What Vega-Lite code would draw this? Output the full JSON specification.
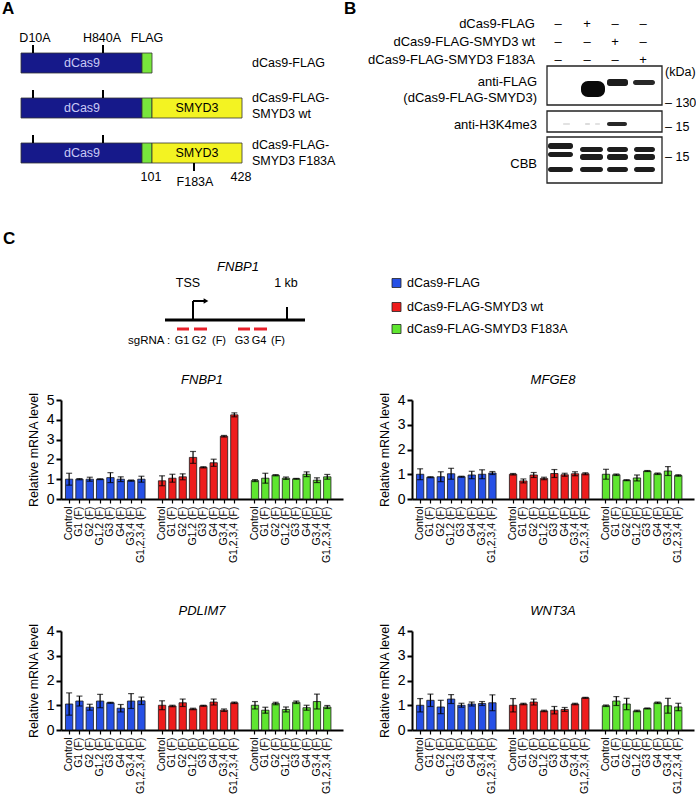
{
  "$schema": "https://vega.github.io/schema/vega-lite/v6.json",
  "padding": 0,
  "bounds": "flush",
  "spacing": 231,
  "background": "white",
  "config": {
    "view": {"stroke": null},
    "font": "Liberation Sans",
    "axis": {"labelFont": "Liberation Sans", "titleFont": "Liberation Sans", "labelColor": "#000", "titleColor": "#000", "domainColor": "#000", "tickColor": "#000", "grid": false},
    "title": {"font": "Liberation Sans", "color": "#000"},
    "text": {"font": "Liberation Sans", "color": "#000"}
  },
  "datasets": {
    "constructs": [
      {"x": 21, "x2": 142, "y": 53, "y2": 73, "part": "dCas9"},
      {"x": 142, "x2": 152, "y": 53, "y2": 73, "part": "FLAG"},
      {"x": 21, "x2": 142, "y": 98, "y2": 118, "part": "dCas9"},
      {"x": 142, "x2": 152, "y": 98, "y2": 118, "part": "FLAG"},
      {"x": 152, "x2": 242, "y": 98, "y2": 118, "part": "SMYD3"},
      {"x": 21, "x2": 142, "y": 143, "y2": 163, "part": "dCas9"},
      {"x": 142, "x2": 152, "y": 143, "y2": 163, "part": "FLAG"},
      {"x": 152, "x2": 242, "y": 143, "y2": 163, "part": "SMYD3"}
    ],
    "vticks": [
      {"x": 33, "y": 45, "y2": 53}, {"x": 103, "y": 45, "y2": 53},
      {"x": 33, "y": 90, "y2": 98}, {"x": 103, "y": 90, "y2": 98},
      {"x": 33, "y": 135, "y2": 143}, {"x": 103, "y": 135, "y2": 143},
      {"x": 194, "y": 163, "y2": 171},
      {"x": 193, "y": 301, "y2": 320}, {"x": 287, "y": 307, "y2": 320}
    ],
    "hlines": [
      {"x": 165, "x2": 305, "y": 320}
    ],
    "harrow": [
      {"x": 193, "x2": 204, "y": 301}
    ],
    "arrowhead": [{"x": 206, "y": 301}],
    "sgrna": [
      {"x": 177, "x2": 189, "y": 329}, {"x": 194, "x2": 207, "y": 329},
      {"x": 238, "x2": 250, "y": 329}, {"x": 254, "x2": 267, "y": 329}
    ],
    "blots": [
      {"x": 547, "x2": 662, "y": 66, "y2": 105},
      {"x": 547, "x2": 662, "y": 111, "y2": 132},
      {"x": 547, "x2": 662, "y": 137, "y2": 183}
    ],
    "blob": [{"x": 581, "x2": 605, "y": 81, "y2": 97, "i": 1}],
    "bands": [
      {"x": 607, "x2": 628, "y": 79, "y2": 86, "i": 0.95},
      {"x": 633, "x2": 655, "y": 80, "y2": 85, "i": 0.9},
      {"x": 607, "x2": 627, "y": 122, "y2": 126, "i": 0.9},
      {"x": 563, "x2": 570, "y": 123, "y2": 125, "i": 0.12},
      {"x": 585, "x2": 590, "y": 123, "y2": 125, "i": 0.15},
      {"x": 595, "x2": 600, "y": 123, "y2": 125, "i": 0.12},
      {"x": 548, "x2": 573, "y": 143, "y2": 149, "i": 0.95},
      {"x": 548, "x2": 573, "y": 152, "y2": 157, "i": 0.95},
      {"x": 548, "x2": 573, "y": 167, "y2": 172, "i": 0.95},
      {"x": 580, "x2": 603, "y": 147, "y2": 152, "i": 0.95},
      {"x": 580, "x2": 603, "y": 154, "y2": 160, "i": 0.95},
      {"x": 580, "x2": 603, "y": 167, "y2": 172, "i": 0.95},
      {"x": 607, "x2": 628, "y": 147, "y2": 152, "i": 0.95},
      {"x": 607, "x2": 628, "y": 154, "y2": 160, "i": 0.95},
      {"x": 607, "x2": 628, "y": 167, "y2": 172, "i": 0.95},
      {"x": 634, "x2": 655, "y": 147, "y2": 152, "i": 0.95},
      {"x": 634, "x2": 655, "y": 154, "y2": 160, "i": 0.95},
      {"x": 634, "x2": 655, "y": 167, "y2": 172, "i": 0.95}
    ],
    "legendsq": [
      {"x": 392, "x2": 401, "y": 278.5, "y2": 287.5, "cond": "FLAG"},
      {"x": 392, "x2": 401, "y": 302.5, "y2": 311.5, "cond": "wt"},
      {"x": 392, "x2": 401, "y": 324.5, "y2": 333.5, "cond": "F183A"}
    ],
    "letters": [
      {"x": 2, "y": 9, "t": "A"}, {"x": 344, "y": 9, "t": "B"}, {"x": 3, "y": 239, "t": "C"}
    ],
    "ctext": [
      {"x": 35, "y": 38, "t": "D10A"}, {"x": 102, "y": 38, "t": "H840A"}, {"x": 147, "y": 38, "t": "FLAG"},
      {"x": 197, "y": 108, "t": "SMYD3"}, {"x": 197, "y": 153, "t": "SMYD3"},
      {"x": 151, "y": 177, "t": "101"}, {"x": 195, "y": 182, "t": "F183A"}, {"x": 241, "y": 177, "t": "428"},
      {"x": 188, "y": 283, "t": "TSS"}, {"x": 286, "y": 283, "t": "1 kb"}
    ],
    "gtext": [
      {"x": 182, "y": 341, "t": "G1"}, {"x": 199, "y": 341, "t": "G2"}, {"x": 219, "y": 341, "t": "(F)"},
      {"x": 242, "y": 341, "t": "G3"}, {"x": 259, "y": 341, "t": "G4"}, {"x": 278, "y": 341, "t": "(F)"}
    ],
    "sglabel": [{"x": 128, "y": 341, "t": "sgRNA :"}],
    "dcas": [
      {"x": 82, "y": 63, "t": "dCas9"}, {"x": 82, "y": 108, "t": "dCas9"}, {"x": 82, "y": 153, "t": "dCas9"}
    ],
    "ltext": [
      {"x": 252, "y": 63, "t": "dCas9-FLAG"},
      {"x": 252, "y": 98, "t": "dCas9-FLAG-"}, {"x": 252, "y": 114, "t": "SMYD3 wt"},
      {"x": 252, "y": 145, "t": "dCas9-FLAG-"}, {"x": 252, "y": 161, "t": "SMYD3 F183A"},
      {"x": 407, "y": 283, "t": "dCas9-FLAG"},
      {"x": 407, "y": 307, "t": "dCas9-FLAG-SMYD3 wt"},
      {"x": 407, "y": 329, "t": "dCas9-FLAG-SMYD3 F183A"},
      {"x": 665, "y": 72, "t": "(kDa)"},
      {"x": 665, "y": 103, "t": "– 130"},
      {"x": 665, "y": 127, "t": "– 15"},
      {"x": 665, "y": 157, "t": "– 15"}
    ],
    "rtext": [
      {"x": 535, "y": 24, "t": "dCas9-FLAG"},
      {"x": 535, "y": 42, "t": "dCas9-FLAG-SMYD3 wt"},
      {"x": 535, "y": 60, "t": "dCas9-FLAG-SMYD3 F183A"},
      {"x": 537, "y": 82, "t": "anti-FLAG"},
      {"x": 537, "y": 98, "t": "(dCas9-FLAG-SMYD3)"},
      {"x": 537, "y": 125, "t": "anti-H3K4me3"},
      {"x": 537, "y": 164, "t": "CBB"}
    ],
    "signs": [
      {"x": 558, "y": 24, "t": "–"}, {"x": 587, "y": 24, "t": "+"}, {"x": 615, "y": 24, "t": "–"}, {"x": 643, "y": 24, "t": "–"},
      {"x": 558, "y": 42, "t": "–"}, {"x": 587, "y": 42, "t": "–"}, {"x": 615, "y": 42, "t": "+"}, {"x": 643, "y": 42, "t": "–"},
      {"x": 558, "y": 60, "t": "–"}, {"x": 587, "y": 60, "t": "–"}, {"x": 615, "y": 60, "t": "–"}, {"x": 643, "y": 60, "t": "+"}
    ],
    "itext": [{"x": 238, "y": 267, "t": "FNBP1"}],
    "expr": [
      {"gene": "FNBP1", "cond": "FLAG", "bar": "a:Control", "mean": 1.0, "sd": 0.3},
      {"gene": "FNBP1", "cond": "FLAG", "bar": "a:G1 (F)", "mean": 1.0, "sd": 0.03},
      {"gene": "FNBP1", "cond": "FLAG", "bar": "a:G2 (F)", "mean": 1.0, "sd": 0.1},
      {"gene": "FNBP1", "cond": "FLAG", "bar": "a:G1,2 (F)", "mean": 1.0, "sd": 0.02},
      {"gene": "FNBP1", "cond": "FLAG", "bar": "a:G3 (F)", "mean": 1.08, "sd": 0.25},
      {"gene": "FNBP1", "cond": "FLAG", "bar": "a:G4 (F)", "mean": 1.0, "sd": 0.12},
      {"gene": "FNBP1", "cond": "FLAG", "bar": "a:G3,4 (F)", "mean": 0.93, "sd": 0.03},
      {"gene": "FNBP1", "cond": "FLAG", "bar": "a:G1,2,3,4 (F)", "mean": 1.0, "sd": 0.15},
      {"gene": "FNBP1", "cond": "wt", "bar": "b:Control", "mean": 0.92, "sd": 0.25},
      {"gene": "FNBP1", "cond": "wt", "bar": "b:G1 (F)", "mean": 1.05, "sd": 0.2},
      {"gene": "FNBP1", "cond": "wt", "bar": "b:G2 (F)", "mean": 1.12, "sd": 0.15},
      {"gene": "FNBP1", "cond": "wt", "bar": "b:G1,2 (F)", "mean": 2.1, "sd": 0.3},
      {"gene": "FNBP1", "cond": "wt", "bar": "b:G3 (F)", "mean": 1.6, "sd": 0.03},
      {"gene": "FNBP1", "cond": "wt", "bar": "b:G4 (F)", "mean": 1.83, "sd": 0.18},
      {"gene": "FNBP1", "cond": "wt", "bar": "b:G3,4 (F)", "mean": 3.17, "sd": 0.04},
      {"gene": "FNBP1", "cond": "wt", "bar": "b:G1,2,3,4 (F)", "mean": 4.25, "sd": 0.1},
      {"gene": "FNBP1", "cond": "F183A", "bar": "c:Control", "mean": 0.93, "sd": 0.05},
      {"gene": "FNBP1", "cond": "F183A", "bar": "c:G1 (F)", "mean": 1.05, "sd": 0.25},
      {"gene": "FNBP1", "cond": "F183A", "bar": "c:G2 (F)", "mean": 1.2, "sd": 0.03},
      {"gene": "FNBP1", "cond": "F183A", "bar": "c:G1,2 (F)", "mean": 1.05, "sd": 0.06},
      {"gene": "FNBP1", "cond": "F183A", "bar": "c:G3 (F)", "mean": 1.02, "sd": 0.02},
      {"gene": "FNBP1", "cond": "F183A", "bar": "c:G4 (F)", "mean": 1.25, "sd": 0.12},
      {"gene": "FNBP1", "cond": "F183A", "bar": "c:G3,4 (F)", "mean": 0.95, "sd": 0.12},
      {"gene": "FNBP1", "cond": "F183A", "bar": "c:G1,2,3,4 (F)", "mean": 1.12, "sd": 0.12},

      {"gene": "MFGE8", "cond": "FLAG", "bar": "a:Control", "mean": 1.0, "sd": 0.22},
      {"gene": "MFGE8", "cond": "FLAG", "bar": "a:G1 (F)", "mean": 0.88, "sd": 0.02},
      {"gene": "MFGE8", "cond": "FLAG", "bar": "a:G2 (F)", "mean": 0.9, "sd": 0.2},
      {"gene": "MFGE8", "cond": "FLAG", "bar": "a:G1,2 (F)", "mean": 1.02, "sd": 0.22},
      {"gene": "MFGE8", "cond": "FLAG", "bar": "a:G3 (F)", "mean": 0.9, "sd": 0.02},
      {"gene": "MFGE8", "cond": "FLAG", "bar": "a:G4 (F)", "mean": 0.97, "sd": 0.15},
      {"gene": "MFGE8", "cond": "FLAG", "bar": "a:G3,4 (F)", "mean": 1.0, "sd": 0.18},
      {"gene": "MFGE8", "cond": "FLAG", "bar": "a:G1,2,3,4 (F)", "mean": 1.05, "sd": 0.06},
      {"gene": "MFGE8", "cond": "wt", "bar": "b:Control", "mean": 1.0, "sd": 0.03},
      {"gene": "MFGE8", "cond": "wt", "bar": "b:G1 (F)", "mean": 0.73, "sd": 0.08},
      {"gene": "MFGE8", "cond": "wt", "bar": "b:G2 (F)", "mean": 0.97, "sd": 0.1},
      {"gene": "MFGE8", "cond": "wt", "bar": "b:G1,2 (F)", "mean": 0.83, "sd": 0.05},
      {"gene": "MFGE8", "cond": "wt", "bar": "b:G3 (F)", "mean": 1.03, "sd": 0.16},
      {"gene": "MFGE8", "cond": "wt", "bar": "b:G4 (F)", "mean": 0.98, "sd": 0.06},
      {"gene": "MFGE8", "cond": "wt", "bar": "b:G3,4 (F)", "mean": 1.02, "sd": 0.08},
      {"gene": "MFGE8", "cond": "wt", "bar": "b:G1,2,3,4 (F)", "mean": 1.02, "sd": 0.04},
      {"gene": "MFGE8", "cond": "F183A", "bar": "c:Control", "mean": 1.0, "sd": 0.2},
      {"gene": "MFGE8", "cond": "F183A", "bar": "c:G1 (F)", "mean": 0.98, "sd": 0.03},
      {"gene": "MFGE8", "cond": "F183A", "bar": "c:G2 (F)", "mean": 0.76, "sd": 0.02},
      {"gene": "MFGE8", "cond": "F183A", "bar": "c:G1,2 (F)", "mean": 0.85, "sd": 0.12},
      {"gene": "MFGE8", "cond": "F183A", "bar": "c:G3 (F)", "mean": 1.13, "sd": 0.02},
      {"gene": "MFGE8", "cond": "F183A", "bar": "c:G4 (F)", "mean": 1.02, "sd": 0.03},
      {"gene": "MFGE8", "cond": "F183A", "bar": "c:G3,4 (F)", "mean": 1.13, "sd": 0.18},
      {"gene": "MFGE8", "cond": "F183A", "bar": "c:G1,2,3,4 (F)", "mean": 0.95, "sd": 0.03},

      {"gene": "PDLIM7", "cond": "FLAG", "bar": "a:Control", "mean": 1.05, "sd": 0.45},
      {"gene": "PDLIM7", "cond": "FLAG", "bar": "a:G1 (F)", "mean": 1.17, "sd": 0.2},
      {"gene": "PDLIM7", "cond": "FLAG", "bar": "a:G2 (F)", "mean": 0.92, "sd": 0.12},
      {"gene": "PDLIM7", "cond": "FLAG", "bar": "a:G1,2 (F)", "mean": 1.17, "sd": 0.27},
      {"gene": "PDLIM7", "cond": "FLAG", "bar": "a:G3 (F)", "mean": 1.1, "sd": 0.02},
      {"gene": "PDLIM7", "cond": "FLAG", "bar": "a:G4 (F)", "mean": 0.88, "sd": 0.15},
      {"gene": "PDLIM7", "cond": "FLAG", "bar": "a:G3,4 (F)", "mean": 1.17, "sd": 0.3},
      {"gene": "PDLIM7", "cond": "FLAG", "bar": "a:G1,2,3,4 (F)", "mean": 1.18, "sd": 0.15},
      {"gene": "PDLIM7", "cond": "wt", "bar": "b:Control", "mean": 1.0, "sd": 0.18},
      {"gene": "PDLIM7", "cond": "wt", "bar": "b:G1 (F)", "mean": 0.97, "sd": 0.03},
      {"gene": "PDLIM7", "cond": "wt", "bar": "b:G2 (F)", "mean": 1.1, "sd": 0.15},
      {"gene": "PDLIM7", "cond": "wt", "bar": "b:G1,2 (F)", "mean": 0.85, "sd": 0.03},
      {"gene": "PDLIM7", "cond": "wt", "bar": "b:G3 (F)", "mean": 0.98, "sd": 0.02},
      {"gene": "PDLIM7", "cond": "wt", "bar": "b:G4 (F)", "mean": 1.13, "sd": 0.12},
      {"gene": "PDLIM7", "cond": "wt", "bar": "b:G3,4 (F)", "mean": 0.8, "sd": 0.05},
      {"gene": "PDLIM7", "cond": "wt", "bar": "b:G1,2,3,4 (F)", "mean": 1.1, "sd": 0.03},
      {"gene": "PDLIM7", "cond": "F183A", "bar": "c:Control", "mean": 1.0, "sd": 0.15},
      {"gene": "PDLIM7", "cond": "F183A", "bar": "c:G1 (F)", "mean": 0.8, "sd": 0.12},
      {"gene": "PDLIM7", "cond": "F183A", "bar": "c:G2 (F)", "mean": 1.07, "sd": 0.05},
      {"gene": "PDLIM7", "cond": "F183A", "bar": "c:G1,2 (F)", "mean": 0.83, "sd": 0.1},
      {"gene": "PDLIM7", "cond": "F183A", "bar": "c:G3 (F)", "mean": 1.12, "sd": 0.05},
      {"gene": "PDLIM7", "cond": "F183A", "bar": "c:G4 (F)", "mean": 0.9, "sd": 0.1},
      {"gene": "PDLIM7", "cond": "F183A", "bar": "c:G3,4 (F)", "mean": 1.15, "sd": 0.3},
      {"gene": "PDLIM7", "cond": "F183A", "bar": "c:G1,2,3,4 (F)", "mean": 0.93, "sd": 0.06},

      {"gene": "WNT3A", "cond": "FLAG", "bar": "a:Control", "mean": 1.0, "sd": 0.27},
      {"gene": "WNT3A", "cond": "FLAG", "bar": "a:G1 (F)", "mean": 1.2, "sd": 0.25},
      {"gene": "WNT3A", "cond": "FLAG", "bar": "a:G2 (F)", "mean": 0.93, "sd": 0.27},
      {"gene": "WNT3A", "cond": "FLAG", "bar": "a:G1,2 (F)", "mean": 1.25, "sd": 0.18},
      {"gene": "WNT3A", "cond": "FLAG", "bar": "a:G3 (F)", "mean": 1.0, "sd": 0.08},
      {"gene": "WNT3A", "cond": "FLAG", "bar": "a:G4 (F)", "mean": 1.05, "sd": 0.08},
      {"gene": "WNT3A", "cond": "FLAG", "bar": "a:G3,4 (F)", "mean": 1.07, "sd": 0.08},
      {"gene": "WNT3A", "cond": "FLAG", "bar": "a:G1,2,3,4 (F)", "mean": 1.1, "sd": 0.32},
      {"gene": "WNT3A", "cond": "wt", "bar": "b:Control", "mean": 1.0, "sd": 0.27},
      {"gene": "WNT3A", "cond": "wt", "bar": "b:G1 (F)", "mean": 1.05, "sd": 0.03},
      {"gene": "WNT3A", "cond": "wt", "bar": "b:G2 (F)", "mean": 1.13, "sd": 0.12},
      {"gene": "WNT3A", "cond": "wt", "bar": "b:G1,2 (F)", "mean": 0.77, "sd": 0.03},
      {"gene": "WNT3A", "cond": "wt", "bar": "b:G3 (F)", "mean": 0.8, "sd": 0.15},
      {"gene": "WNT3A", "cond": "wt", "bar": "b:G4 (F)", "mean": 0.83, "sd": 0.08},
      {"gene": "WNT3A", "cond": "wt", "bar": "b:G3,4 (F)", "mean": 1.05, "sd": 0.03},
      {"gene": "WNT3A", "cond": "wt", "bar": "b:G1,2,3,4 (F)", "mean": 1.3, "sd": 0.02},
      {"gene": "WNT3A", "cond": "F183A", "bar": "c:Control", "mean": 0.98, "sd": 0.03},
      {"gene": "WNT3A", "cond": "F183A", "bar": "c:G1 (F)", "mean": 1.17, "sd": 0.18},
      {"gene": "WNT3A", "cond": "F183A", "bar": "c:G2 (F)", "mean": 1.05, "sd": 0.23},
      {"gene": "WNT3A", "cond": "F183A", "bar": "c:G1,2 (F)", "mean": 0.77, "sd": 0.03},
      {"gene": "WNT3A", "cond": "F183A", "bar": "c:G3 (F)", "mean": 0.87, "sd": 0.02},
      {"gene": "WNT3A", "cond": "F183A", "bar": "c:G4 (F)", "mean": 1.1, "sd": 0.03},
      {"gene": "WNT3A", "cond": "F183A", "bar": "c:G3,4 (F)", "mean": 0.98, "sd": 0.3},
      {"gene": "WNT3A", "cond": "F183A", "bar": "c:G1,2,3,4 (F)", "mean": 0.93, "sd": 0.15}
    ]
  },
  "vconcat": [
    {
      "width": 696,
      "height": 169,
      "encoding": {
        "x": {"field": "x", "type": "quantitative", "scale": {"domain": [0, 696], "nice": false, "zero": false}, "axis": null},
        "y": {"field": "y", "type": "quantitative", "scale": {"domain": [0, 169], "nice": false, "zero": false, "reverse": true}, "axis": null}
      },
      "layer": [
        {"data": {"name": "constructs"}, "mark": {"type": "rect", "stroke": "#333", "strokeWidth": 0.8},
         "encoding": {"x2": {"field": "x2"}, "y2": {"field": "y2"},
           "fill": {"field": "part", "type": "nominal", "scale": {"domain": ["dCas9", "FLAG", "SMYD3"], "range": ["#16198a", "#78e63c", "#f3f322"]}, "legend": null}}},
        {"data": {"name": "blots"}, "mark": {"type": "rect", "fill": "white", "stroke": "#222", "strokeWidth": 1.3},
         "encoding": {"x2": {"field": "x2"}, "y2": {"field": "y2"}}},
        {"data": {"name": "blob"}, "mark": {"type": "rect", "fill": "#0a0a0a", "cornerRadius": 7},
         "encoding": {"x2": {"field": "x2"}, "y2": {"field": "y2"}}},
        {"data": {"name": "bands"}, "mark": {"type": "rect", "fill": "#111", "cornerRadius": 2.5},
         "encoding": {"x2": {"field": "x2"}, "y2": {"field": "y2"},
           "opacity": {"field": "i", "type": "quantitative", "scale": {"domain": [0, 1], "range": [0, 1]}, "legend": null}}},
        {"data": {"name": "legendsq"}, "mark": {"type": "rect", "stroke": "#222", "strokeWidth": 0.8},
         "encoding": {"x2": {"field": "x2"}, "y2": {"field": "y2"},
           "color": {"field": "cond", "type": "nominal", "scale": {"domain": ["FLAG", "wt", "F183A"], "range": ["#2650e6", "#ee1c1c", "#5fe630"]}, "legend": null}}},
        {"data": {"name": "vticks"}, "mark": {"type": "rule", "color": "#000", "strokeWidth": 2},
         "encoding": {"y2": {"field": "y2"}}},
        {"data": {"name": "hlines"}, "mark": {"type": "rule", "color": "#000", "strokeWidth": 3},
         "encoding": {"x2": {"field": "x2"}}},
        {"data": {"name": "harrow"}, "mark": {"type": "rule", "color": "#000", "strokeWidth": 2},
         "encoding": {"x2": {"field": "x2"}}},
        {"data": {"name": "arrowhead"}, "mark": {"type": "point", "shape": "triangle-right", "filled": true, "color": "#000", "size": 30, "opacity": 1},
         "encoding": {}},
        {"data": {"name": "sgrna"}, "mark": {"type": "rule", "color": "#e8202a", "strokeWidth": 3},
         "encoding": {"x2": {"field": "x2"}}},
        {"data": {"name": "letters"}, "mark": {"type": "text", "align": "left", "baseline": "middle", "fontSize": 17, "fontWeight": "bold"},
         "encoding": {"text": {"field": "t"}}},
        {"data": {"name": "ctext"}, "mark": {"type": "text", "align": "center", "baseline": "middle", "fontSize": 12.5},
         "encoding": {"text": {"field": "t"}}},
        {"data": {"name": "gtext"}, "mark": {"type": "text", "align": "center", "baseline": "middle", "fontSize": 11},
         "encoding": {"text": {"field": "t"}}},
        {"data": {"name": "sglabel"}, "mark": {"type": "text", "align": "left", "baseline": "middle", "fontSize": 11.5},
         "encoding": {"text": {"field": "t"}}},
        {"data": {"name": "dcas"}, "mark": {"type": "text", "align": "center", "baseline": "middle", "fontSize": 12.5, "color": "#c9c9f5"},
         "encoding": {"text": {"field": "t"}}},
        {"data": {"name": "ltext"}, "mark": {"type": "text", "align": "left", "baseline": "middle", "fontSize": 12.5},
         "encoding": {"text": {"field": "t"}}},
        {"data": {"name": "rtext"}, "mark": {"type": "text", "align": "right", "baseline": "middle", "fontSize": 13},
         "encoding": {"text": {"field": "t"}}},
        {"data": {"name": "signs"}, "mark": {"type": "text", "align": "center", "baseline": "middle", "fontSize": 13},
         "encoding": {"text": {"field": "t"}}},
        {"data": {"name": "itext"}, "mark": {"type": "text", "align": "center", "baseline": "middle", "fontSize": 13, "fontStyle": "italic"},
         "encoding": {"text": {"field": "t"}}}
      ]
    },
    {
      "bounds": "flush",
      "spacing": 0,
      "hconcat": [
        {"width": 61, "height": 99, "data": {"values": []}, "mark": "point"},
        {
          "width": 282, "height": 99,
          "data": {"name": "expr"},
          "transform": [{"filter": "datum.gene == 'FNBP1'"}],
          "title": {"text": "FNBP1", "fontStyle": "italic", "fontWeight": "normal", "fontSize": 13, "offset": 5},
          "encoding": {
            "x": {"field": "bar", "type": "nominal", "sort": null,
              "scale": {"domain": ["a:Control", "a:G1 (F)", "a:G2 (F)", "a:G1,2 (F)", "a:G3 (F)", "a:G4 (F)", "a:G3,4 (F)", "a:G1,2,3,4 (F)", "s1", "b:Control", "b:G1 (F)", "b:G2 (F)", "b:G1,2 (F)", "b:G3 (F)", "b:G4 (F)", "b:G3,4 (F)", "b:G1,2,3,4 (F)", "s2", "c:Control", "c:G1 (F)", "c:G2 (F)", "c:G1,2 (F)", "c:G3 (F)", "c:G4 (F)", "c:G3,4 (F)", "c:G1,2,3,4 (F)"], "paddingInner": 0.29, "paddingOuter": 0.8, "align": 0.27},
              "axis": {"title": null, "labelAngle": -90, "labelFontSize": 10.5, "labelExpr": "length(datum.label) > 2 ? slice(datum.label, 2) : ''", "tickOpacity": {"condition": {"test": "length(datum.value) <= 2", "value": 0}, "value": 1}, "tickSize": 4, "tickWidth": 1.2, "labelPadding": 3, "domainWidth": 2}},
            "y": {"field": "mean", "type": "quantitative", "scale": {"domain": [0, 5], "nice": false},
              "axis": {"title": "Relative mRNA level", "values": [0, 1, 2, 3, 4, 5], "domainWidth": 2, "tickWidth": 2, "tickSize": 5, "labelFontSize": 14, "labelPadding": 2, "titleFontSize": 12.5, "titleFontWeight": "normal", "titlePadding": 6}}
          },
          "layer": [
            {"mark": {"type": "bar", "stroke": "#1a1a1a", "strokeWidth": 0.8},
             "encoding": {"color": {"field": "cond", "type": "nominal", "scale": {"domain": ["FLAG", "wt", "F183A"], "range": ["#2650e6", "#ee1c1c", "#5fe630"]}, "legend": null}}},
            {"mark": {"type": "errorbar", "ticks": true, "size": 6, "thickness": 1.2, "color": "#000"},
             "encoding": {"yError": {"field": "sd"}}}
          ]
        },
        {"width": 69, "height": 99, "data": {"values": []}, "mark": "point"},
        {
          "width": 282, "height": 99,
          "data": {"name": "expr"},
          "transform": [{"filter": "datum.gene == 'MFGE8'"}],
          "title": {"text": "MFGE8", "fontStyle": "italic", "fontWeight": "normal", "fontSize": 13, "offset": 5},
          "encoding": {
            "x": {"field": "bar", "type": "nominal", "sort": null,
              "scale": {"domain": ["a:Control", "a:G1 (F)", "a:G2 (F)", "a:G1,2 (F)", "a:G3 (F)", "a:G4 (F)", "a:G3,4 (F)", "a:G1,2,3,4 (F)", "s1", "b:Control", "b:G1 (F)", "b:G2 (F)", "b:G1,2 (F)", "b:G3 (F)", "b:G4 (F)", "b:G3,4 (F)", "b:G1,2,3,4 (F)", "s2", "c:Control", "c:G1 (F)", "c:G2 (F)", "c:G1,2 (F)", "c:G3 (F)", "c:G4 (F)", "c:G3,4 (F)", "c:G1,2,3,4 (F)"], "paddingInner": 0.29, "paddingOuter": 0.8, "align": 0.27},
              "axis": {"title": null, "labelAngle": -90, "labelFontSize": 10.5, "labelExpr": "length(datum.label) > 2 ? slice(datum.label, 2) : ''", "tickOpacity": {"condition": {"test": "length(datum.value) <= 2", "value": 0}, "value": 1}, "tickSize": 4, "tickWidth": 1.2, "labelPadding": 3, "domainWidth": 2}},
            "y": {"field": "mean", "type": "quantitative", "scale": {"domain": [0, 4], "nice": false},
              "axis": {"title": "Relative mRNA level", "values": [0, 1, 2, 3, 4], "domainWidth": 2, "tickWidth": 2, "tickSize": 5, "labelFontSize": 14, "labelPadding": 2, "titleFontSize": 12.5, "titleFontWeight": "normal", "titlePadding": 6}}
          },
          "layer": [
            {"mark": {"type": "bar", "stroke": "#1a1a1a", "strokeWidth": 0.8},
             "encoding": {"color": {"field": "cond", "type": "nominal", "scale": {"domain": ["FLAG", "wt", "F183A"], "range": ["#2650e6", "#ee1c1c", "#5fe630"]}, "legend": null}}},
            {"mark": {"type": "errorbar", "ticks": true, "size": 6, "thickness": 1.2, "color": "#000"},
             "encoding": {"yError": {"field": "sd"}}}
          ]
        }
      ]
    },
    {
      "bounds": "flush",
      "spacing": 0,
      "hconcat": [
        {"width": 61, "height": 99, "data": {"values": []}, "mark": "point"},
        {
          "width": 282, "height": 99,
          "data": {"name": "expr"},
          "transform": [{"filter": "datum.gene == 'PDLIM7'"}],
          "title": {"text": "PDLIM7", "fontStyle": "italic", "fontWeight": "normal", "fontSize": 13, "offset": 5},
          "encoding": {
            "x": {"field": "bar", "type": "nominal", "sort": null,
              "scale": {"domain": ["a:Control", "a:G1 (F)", "a:G2 (F)", "a:G1,2 (F)", "a:G3 (F)", "a:G4 (F)", "a:G3,4 (F)", "a:G1,2,3,4 (F)", "s1", "b:Control", "b:G1 (F)", "b:G2 (F)", "b:G1,2 (F)", "b:G3 (F)", "b:G4 (F)", "b:G3,4 (F)", "b:G1,2,3,4 (F)", "s2", "c:Control", "c:G1 (F)", "c:G2 (F)", "c:G1,2 (F)", "c:G3 (F)", "c:G4 (F)", "c:G3,4 (F)", "c:G1,2,3,4 (F)"], "paddingInner": 0.29, "paddingOuter": 0.8, "align": 0.27},
              "axis": {"title": null, "labelAngle": -90, "labelFontSize": 10.5, "labelExpr": "length(datum.label) > 2 ? slice(datum.label, 2) : ''", "tickOpacity": {"condition": {"test": "length(datum.value) <= 2", "value": 0}, "value": 1}, "tickSize": 4, "tickWidth": 1.2, "labelPadding": 3, "domainWidth": 2}},
            "y": {"field": "mean", "type": "quantitative", "scale": {"domain": [0, 4], "nice": false},
              "axis": {"title": "Relative mRNA level", "values": [0, 1, 2, 3, 4], "domainWidth": 2, "tickWidth": 2, "tickSize": 5, "labelFontSize": 14, "labelPadding": 2, "titleFontSize": 12.5, "titleFontWeight": "normal", "titlePadding": 6}}
          },
          "layer": [
            {"mark": {"type": "bar", "stroke": "#1a1a1a", "strokeWidth": 0.8},
             "encoding": {"color": {"field": "cond", "type": "nominal", "scale": {"domain": ["FLAG", "wt", "F183A"], "range": ["#2650e6", "#ee1c1c", "#5fe630"]}, "legend": null}}},
            {"mark": {"type": "errorbar", "ticks": true, "size": 6, "thickness": 1.2, "color": "#000"},
             "encoding": {"yError": {"field": "sd"}}}
          ]
        },
        {"width": 69, "height": 99, "data": {"values": []}, "mark": "point"},
        {
          "width": 282, "height": 99,
          "data": {"name": "expr"},
          "transform": [{"filter": "datum.gene == 'WNT3A'"}],
          "title": {"text": "WNT3A", "fontStyle": "italic", "fontWeight": "normal", "fontSize": 13, "offset": 5},
          "encoding": {
            "x": {"field": "bar", "type": "nominal", "sort": null,
              "scale": {"domain": ["a:Control", "a:G1 (F)", "a:G2 (F)", "a:G1,2 (F)", "a:G3 (F)", "a:G4 (F)", "a:G3,4 (F)", "a:G1,2,3,4 (F)", "s1", "b:Control", "b:G1 (F)", "b:G2 (F)", "b:G1,2 (F)", "b:G3 (F)", "b:G4 (F)", "b:G3,4 (F)", "b:G1,2,3,4 (F)", "s2", "c:Control", "c:G1 (F)", "c:G2 (F)", "c:G1,2 (F)", "c:G3 (F)", "c:G4 (F)", "c:G3,4 (F)", "c:G1,2,3,4 (F)"], "paddingInner": 0.29, "paddingOuter": 0.8, "align": 0.27},
              "axis": {"title": null, "labelAngle": -90, "labelFontSize": 10.5, "labelExpr": "length(datum.label) > 2 ? slice(datum.label, 2) : ''", "tickOpacity": {"condition": {"test": "length(datum.value) <= 2", "value": 0}, "value": 1}, "tickSize": 4, "tickWidth": 1.2, "labelPadding": 3, "domainWidth": 2}},
            "y": {"field": "mean", "type": "quantitative", "scale": {"domain": [0, 4], "nice": false},
              "axis": {"title": "Relative mRNA level", "values": [0, 1, 2, 3, 4], "domainWidth": 2, "tickWidth": 2, "tickSize": 5, "labelFontSize": 14, "labelPadding": 2, "titleFontSize": 12.5, "titleFontWeight": "normal", "titlePadding": 6}}
          },
          "layer": [
            {"mark": {"type": "bar", "stroke": "#1a1a1a", "strokeWidth": 0.8},
             "encoding": {"color": {"field": "cond", "type": "nominal", "scale": {"domain": ["FLAG", "wt", "F183A"], "range": ["#2650e6", "#ee1c1c", "#5fe630"]}, "legend": null}}},
            {"mark": {"type": "errorbar", "ticks": true, "size": 6, "thickness": 1.2, "color": "#000"},
             "encoding": {"yError": {"field": "sd"}}}
          ]
        }
      ]
    }
  ]
}
